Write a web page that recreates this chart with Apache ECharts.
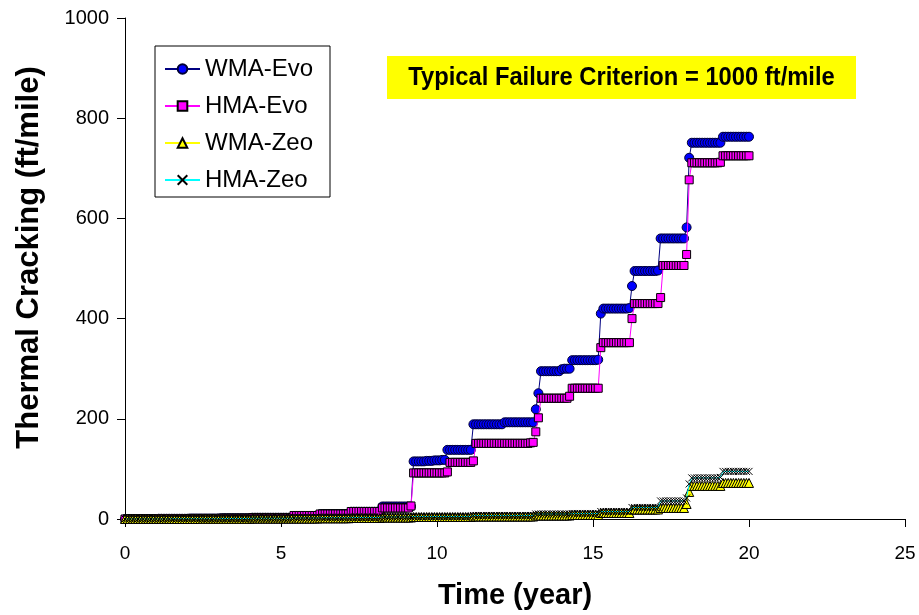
<!DOCTYPE html>
<html>
<head>
<meta charset="utf-8">
<script src="https://cdn.jsdelivr.net/npm/echarts@6/dist/echarts.min.js"></script>
<style>html,body{margin:0;padding:0;background:#fff;}#chart{width:919px;height:615px;}</style>
</head>
<body>
<div id="chart"></div>
<script>
// Monthly time grid (years)
const timeYears = [
0,0.083,0.167,0.25,0.333,0.417,0.5,0.583,0.667,0.75,0.833,0.917,
1,1.083,1.167,1.25,1.333,1.417,1.5,1.583,1.667,1.75,1.833,1.917,
2,2.083,2.167,2.25,2.333,2.417,2.5,2.583,2.667,2.75,2.833,2.917,
3,3.083,3.167,3.25,3.333,3.417,3.5,3.583,3.667,3.75,3.833,3.917,
4,4.083,4.167,4.25,4.333,4.417,4.5,4.583,4.667,4.75,4.833,4.917,
5,5.083,5.167,5.25,5.333,5.417,5.5,5.583,5.667,5.75,5.833,5.917,
6,6.083,6.167,6.25,6.333,6.417,6.5,6.583,6.667,6.75,6.833,6.917,
7,7.083,7.167,7.25,7.333,7.417,7.5,7.583,7.667,7.75,7.833,7.917,
8,8.083,8.167,8.25,8.333,8.417,8.5,8.583,8.667,8.75,8.833,8.917,
9,9.083,9.167,9.25,9.333,9.417,9.5,9.583,9.667,9.75,9.833,9.917,
10,10.083,10.167,10.25,10.333,10.417,10.5,10.583,10.667,10.75,10.833,10.917,
11,11.083,11.167,11.25,11.333,11.417,11.5,11.583,11.667,11.75,11.833,11.917,
12,12.083,12.167,12.25,12.333,12.417,12.5,12.583,12.667,12.75,12.833,12.917,
13,13.083,13.167,13.25,13.333,13.417,13.5,13.583,13.667,13.75,13.833,13.917,
14,14.083,14.167,14.25,14.333,14.417,14.5,14.583,14.667,14.75,14.833,14.917,
15,15.083,15.167,15.25,15.333,15.417,15.5,15.583,15.667,15.75,15.833,15.917,
16,16.083,16.167,16.25,16.333,16.417,16.5,16.583,16.667,16.75,16.833,16.917,
17,17.083,17.167,17.25,17.333,17.417,17.5,17.583,17.667,17.75,17.833,17.917,
18,18.083,18.167,18.25,18.333,18.417,18.5,18.583,18.667,18.75,18.833,18.917,
19,19.083,19.167,19.25,19.333,19.417,19.5,19.583,19.667,19.75,19.833,19.917,
20];

const wmaEvo = [
0,0,0,0,0,0,0,0,0,0,0,0,
0,0.5,0.5,0.5,0.5,0.5,0.5,0.5,0.5,0.5,0.5,0.5,
0.5,1,1,1,1,1,1,1,1,1,1,1,
1,1.5,1.5,1.5,1.5,1.5,1.5,1.5,1.5,1.5,1.5,1.5,
1.5,2.5,2.5,2.5,2.5,2.5,2.5,2.5,2.5,2.5,2.5,2.5,
2.5,2.5,2.5,2.5,2.5,6,6,6,6,6,6,6,
6,6,6,9.5,9.5,9.5,9.5,9.5,9.5,9.5,9.5,9.5,
9.5,9.5,9.5,14.5,14.5,14.5,14.5,14.5,14.5,14.5,14.5,14.5,
14.5,14.5,14.5,25,25,25,25,25,25,25,25,25,
25,25,25,115,115,115,115,115,116,116,116,117,
117,117,118,118,138,138,138,138,138,138,138,138,
138,138,189,189,189,189,189,189,189,189,189,189,
189,189,193,193,193,193,193,193,193,193,193,193,
193,193,219,251,295,295,295,295,295,295,295,295,
299,300,300,300,317,317,317,317,317,317,317,317,
317,317,318,410,420,420,420,420,420,420,420,420,
420,420,421,465,495,495,495,495,495,495,495,495,
495,496,560,560,560,560,560,560,560,560,560,560,
582,721,751,751,751,751,751,751,751,751,751,751,
751,751,763,763,763,763,763,763,763,763,763,763,
763];

const hmaEvo = [
0,0,0,0,0,0,0,0,0,0,0,0,
0,0.5,0.5,0.5,0.5,0.5,0.5,0.5,0.5,0.5,0.5,0.5,
0.5,1,1,1,1,1,1,1,1,1,1,1,
1,1.5,1.5,1.5,1.5,1.5,1.5,1.5,1.5,1.5,1.5,1.5,
1.5,3,3,3,3,3,3,3,3,3,3,3,
3,3,3,3,3,7,7,7,7,7,7,7,
7,7,7,10,10,10,10,10,10,10,10,10,
10,10,10,15,15,15,15,15,15,15,15,15,
15,15,15,22,22,22,22,22,22,22,22,22,
22,22,26,92,92,92,92,92,92,92,92,92,
92,92,92,92,94,113,113,113,113,113,113,113,
113,113,116,151,151,151,151,151,151,151,151,151,
151,151,151,151,151,151,151,151,151,151,151,151,
152,153,174,202,241,241,241,241,241,241,241,241,
241,241,241,245,261,261,261,261,261,261,261,261,
261,261,261,342,352,352,352,352,352,352,352,352,
352,352,352,400,430,430,430,430,430,430,430,430,
430,430,442,506,506,506,506,506,506,506,506,506,
528,677,711,711,711,711,711,711,711,711,711,711,
711,712,725,725,725,725,725,725,725,725,725,725,
725];

const wmaZeo = [
0,0,0,0,0,0,0,0,0,0,0,0,
0,0,0,0,0,0,0,0,0,0,0,0,
0,0,0,0,0,0,0.5,0.5,0.5,0.5,0.5,0.5,
0.5,0.5,0.5,0.5,0.5,0.5,0.5,0.5,0.5,0.5,0.5,0.5,
0.5,1,1,1,1,1,1,1,1,1,1,1,
1,1,1,1,1,1,1,1,1,1,1,1,
1,1,1,1.5,1.5,1.5,1.5,1.5,1.5,1.5,1.5,1.5,
1.5,1.5,1.5,2,2,2,2,2,2,2,2,2,
2,2,2,3,3,3,3,3,3,3,3,3,
3,3,3,4,4,4,4,4,4,4,4,4,
4,4,4,4,4,4,4,4,4,4,4,4,
4,4,5,5,5,5,5,5,5,5,5,5,
5,5,5,5,5,5,5,5,5,5,5,5,
5,5,7,7,7,7,7,7,7,7,7,7,
7,7,7,7,8,8,8,8,8,8,8,8,
8,8,8,12,12,12,12,12,12,12,12,12,
12,12,12,19,19,19,19,19,19,19,19,19,
19,19,22,22,22,22,22,22,22,22,22,22,
30,54,66,66,66,66,66,66,66,66,66,66,
66,66,72,72,72,72,72,72,72,72,72,72,
72];

const hmaZeo = [
0,0,0,0,0,0,0,0,0,0,0,0,
0,0,0,0,0,0,0.5,0.5,0.5,0.5,0.5,0.5,
0.5,0.5,0.5,0.5,0.5,0.5,0.5,0.5,0.5,0.5,0.5,0.5,
0.5,1,1,1,1,1,1,1,1,1,1,1,
1,1.5,1.5,1.5,1.5,1.5,1.5,1.5,1.5,1.5,1.5,1.5,
1.5,1.5,1.5,1.5,1.5,2,2,2,2,2,2,2,
2,2,2,2.5,2.5,2.5,2.5,2.5,2.5,2.5,2.5,2.5,
2.5,2.5,2.5,3,3,3,3,3,3,3,3,3,
3,3,3,4,4,4,4,4,4,4,4,4,
4,4,4,5,5,5,5,5,5,5,5,5,
5,5,5,5,5,5,5,5,5,5,5,5,
5,5,7,7,7,7,7,7,7,7,7,7,
7,7,7,7,7,7,7,7,7,7,7,7,
7,7,10,10,10,10,10,10,10,10,10,10,
10,10,10,10,11,11,11,11,11,11,11,11,
11,11,11,15,15,15,15,15,15,15,15,15,
15,15,15,23,23,23,23,23,23,23,23,23,
23,23,36,36,36,36,36,36,36,36,36,36,
42,70,82,82,82,82,82,82,82,82,82,82,
82,83,95,95,95,95,95,95,95,95,95,95,
95];

const seriesNames = ['WMA-Evo', 'HMA-Evo', 'WMA-Zeo', 'HMA-Zeo'];
const xTicks = [0, 5, 10, 15, 20, 25];
const yTicks = [0, 200, 400, 600, 800, 1000];
const annotationText = 'Typical Failure Criterion = 1000 ft/mile';

function pairs(vals) { return vals.map((v, i) => [timeYears[i], v]); }

const styles = [
  { symbol: 'circle', symbolSize: 9, fill: '#0000FF', border: '#000033', line: '#000080' },
  { symbol: 'rect', symbolSize: 8, fill: '#FF00FF', border: '#000000', line: '#FF00FF' },
  { symbol: 'triangle', symbolSize: 9, fill: '#FFFF00', border: '#000000', line: '#FFFF00' },
  { symbol: 'path://M0,0L10,10M10,0L0,10', symbolSize: 7, fill: '#000000', border: '#000000', line: '#00FFFF' }
];
const allVals = [wmaEvo, hmaEvo, wmaZeo, hmaZeo];

const FONT = '"Liberation Sans", Arial, sans-serif';

const chart = echarts.init(document.getElementById('chart'), null, { renderer: 'canvas' });
chart.setOption({
  animation: false,
  backgroundColor: '#ffffff',
  grid: { left: 125, right: 14, top: 18, bottom: 95, containLabel: false },
  xAxis: {
    type: 'value', min: xTicks[0], max: xTicks[xTicks.length - 1], interval: 5,
    name: 'Time (year)', nameLocation: 'middle', nameGap: 62,
    nameTextStyle: { fontFamily: FONT, fontWeight: 'bold', fontSize: 29, color: '#000' },
    axisLine: { show: true, onZero: false, lineStyle: { color: '#000', width: 1 } },
    axisTick: { show: true, length: 8, inside: false, lineStyle: { color: '#000' } },
    axisLabel: { fontFamily: FONT, fontSize: 19, color: '#000', margin: 25, formatter: v => String(v) },
    splitLine: { show: false }
  },
  yAxis: {
    type: 'value', min: yTicks[0], max: yTicks[yTicks.length - 1], interval: 200,
    name: 'Thermal Cracking (ft/mile)', nameLocation: 'middle', nameGap: 80,
    nameTextStyle: { fontFamily: FONT, fontWeight: 'bold', fontSize: 31, color: '#000', padding: [0, 0, 0, 22] },
    axisLine: { show: true, lineStyle: { color: '#000', width: 1 } },
    axisTick: { show: true, length: 8, inside: false, lineStyle: { color: '#000' } },
    axisLabel: { fontFamily: FONT, fontSize: 20, color: '#000', margin: 16, formatter: v => String(v) },
    splitLine: { show: false }
  },
  legend: {
    orient: 'vertical', left: 155, top: 46,
    backgroundColor: '#fff', borderColor: '#000', borderWidth: 1,
    padding: [11, 17, 5, 9],
    itemWidth: 35, itemHeight: 12, itemGap: 13,
    textStyle: { fontFamily: FONT, fontSize: 24, color: '#000', lineHeight: 24 },
    data: seriesNames
  },
  graphic: [
    {
      type: 'group', left: 387, top: 56,
      children: [
        { type: 'rect', shape: { x: 0, y: 0, width: 469, height: 43 }, style: { fill: '#FFFF00' } },
        { type: 'text', x: 234.5, y: 22, scaleX: 0.95, style: {
            text: annotationText, fill: '#000', align: 'center', verticalAlign: 'middle',
            font: 'bold 25px "Liberation Sans", Arial, sans-serif' } }
      ]
    }
  ],
  series: seriesNames.map((name, k) => ({
    name: name, type: 'line', data: pairs(allVals[k]),
    symbol: styles[k].symbol, symbolSize: styles[k].symbolSize, showSymbol: true,
    showAllSymbol: true,
    lineStyle: { color: styles[k].line, width: 1 },
    itemStyle: { color: styles[k].fill, borderColor: styles[k].border, borderWidth: 1 },
    emphasis: { disabled: true },
    z: 2 + k
  }))
});
</script>
</body>
</html>
